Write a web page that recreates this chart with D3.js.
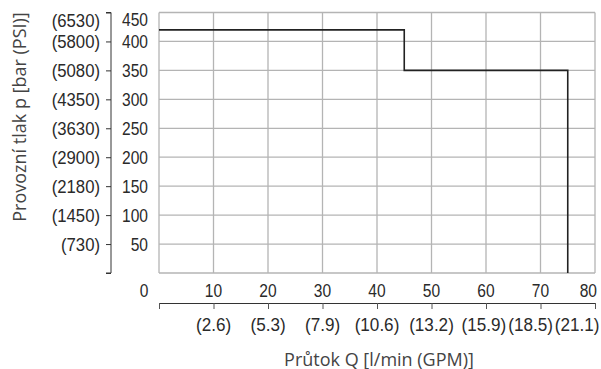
<!DOCTYPE html>
<html><head><meta charset="utf-8">
<script src="https://cdn.jsdelivr.net/npm/d3@7"></script>
<style>
body{margin:0;background:#fff;}
svg{display:block;}
</style></head>
<body>
<svg id="c" width="601" height="369"></svg>
<script>
// Data
const flowTicks = [10, 20, 30, 40, 50, 60, 70, 80];
const gpmLabels = ["(2.6)", "(5.3)", "(7.9)", "(10.6)", "(13.2)", "(15.9)", "(18.5)", "(21.1)"];
const barTicks = [450, 400, 350, 300, 250, 200, 150, 100, 50];
const psiLabels = ["(6530)", "(5800)", "(5080)", "(4350)", "(3630)", "(2900)", "(2180)", "(1450)", "(730)"];
const stepFlow = [0, 45, 45, 75, 75];
const stepPressure = [420, 420, 350, 350, 0];
const xTitle = "Průtok Q [l/min (GPM)]";
const yTitle = "Provozní tlak p [bar (PSI)]";

const svg = d3.select("#c");
const x = d3.scaleLinear().domain([0, 80]).range([159, 595]);
const y = d3.scaleLinear().domain([0, 450]).range([273, 12.5]);
const numFont = "'Liberation Sans', Arial, sans-serif";
const titleFont = "'Open Sans', 'Noto Sans', sans-serif";
const gridColor = "#b4b4b4";
const txt = "#2a2a2a";

function numText(sel, xf, yf, anchor, tf, sx) {
  return sel.attr("transform", (d, i) => `translate(${xf(d, i)},${yf(d, i)}) scale(${sx},1)`)
    .attr("text-anchor", anchor).attr("font-family", numFont).attr("font-size", 19)
    .attr("fill", txt).text(tf);
}
// keep centred labels inside right edge, pushing neighbours left if needed
function fitLabels(sel, sx, rightLimit, gap) {
  const nodes = sel.nodes();
  const w = nodes.map(n => n.getComputedTextLength() * sx);
  const cx = sel.data().map(d => x(d));
  for (let i = nodes.length - 1; i >= 0; i--) {
    const limit = i === nodes.length - 1 ? rightLimit : (cx[i + 1] - w[i + 1] / 2 - gap);
    if (cx[i] + w[i] / 2 > limit) cx[i] = limit - w[i] / 2;
  }
  sel.attr("transform", function (d, i) {
    const t = d3.select(this).attr("transform");
    return t.replace(/translate\(([^,]+),/, `translate(${cx[i]},`);
  });
}

// Grid
const gx = d3.range(0, 81, 10), gy = d3.range(0, 451, 50);
svg.append("g").selectAll("line").data(gx).join("line")
  .attr("x1", d => x(d)).attr("x2", d => x(d)).attr("y1", y(450)).attr("y2", y(0))
  .attr("stroke", gridColor).attr("stroke-width", 1.3);
svg.append("g").selectAll("line").data(gy).join("line")
  .attr("x1", x(0)).attr("x2", x(80)).attr("y1", d => y(d)).attr("y2", d => y(d))
  .attr("stroke", gridColor).attr("stroke-width", 1.3);

// Data line
const line = d3.line().x(d => x(d[0])).y(d => y(d[1]));
svg.append("path").datum(stepFlow.map((f, i) => [f, stepPressure[i]]))
  .attr("d", line).attr("fill", "none").attr("stroke", "#222").attr("stroke-width", 1.6);

// Left axis (bar)
const yAxis = d3.axisLeft(y).tickValues([0].concat(barTicks)).tickSize(5).tickFormat("");
const ya = svg.append("g").attr("transform", "translate(111,0)").call(yAxis);
ya.select(".domain").attr("stroke", "#333").attr("d", "M-5," + y(450) + "H0V" + y(0) + "H-5");
ya.selectAll(".tick line").attr("stroke", "#333");

// bar labels
numText(svg.append("g").selectAll("text").data(barTicks).join("text"),
  () => 148, d => y(d) + (d === 450 ? 7 : 0) + 6.8, "end", d => d, 0.82);
// psi labels
numText(svg.append("g").selectAll("text").data(barTicks).join("text"),
  () => 100, d => y(d) + (d === 450 ? 8 : 0) + 6.8, "end", (d, i) => psiLabels[i], 0.88);

// Upper x labels (l/min)
const up = numText(svg.append("g").selectAll("text").data(flowTicks).join("text"),
  d => x(d), () => 296.5, "middle", d => d, 0.82);
fitLabels(up, 0.82, 597, 2);
numText(svg.append("g").selectAll("text").data([0]).join("text"),
  () => 148.5, () => 296.5, "end", d => d, 0.82);

// Lower x axis (GPM)
const xAxis = d3.axisBottom(x).tickValues(d3.range(0, 81, 10)).tickSize(6).tickFormat("");
const xa = svg.append("g").attr("transform", "translate(0,303)").call(xAxis);
xa.select(".domain").attr("stroke", "#333");
xa.selectAll(".tick line").attr("stroke", "#555");
const low = numText(svg.append("g").selectAll("text").data(flowTicks).join("text"),
  d => x(d), () => 330.5, "middle", (d, i) => gpmLabels[i], 0.9);
fitLabels(low, 0.9, 599.5, 2);

// Titles
svg.append("text").attr("x", 379).attr("y", 365.5).attr("text-anchor", "middle")
  .attr("font-family", titleFont).attr("font-size", 18).attr("fill", "#444").text(xTitle);
svg.append("text").attr("transform", "translate(26,117) rotate(-90)").attr("text-anchor", "middle")
  .attr("font-family", titleFont).attr("font-size", 18).attr("fill", "#444").text(yTitle);
</script>
</body></html>
